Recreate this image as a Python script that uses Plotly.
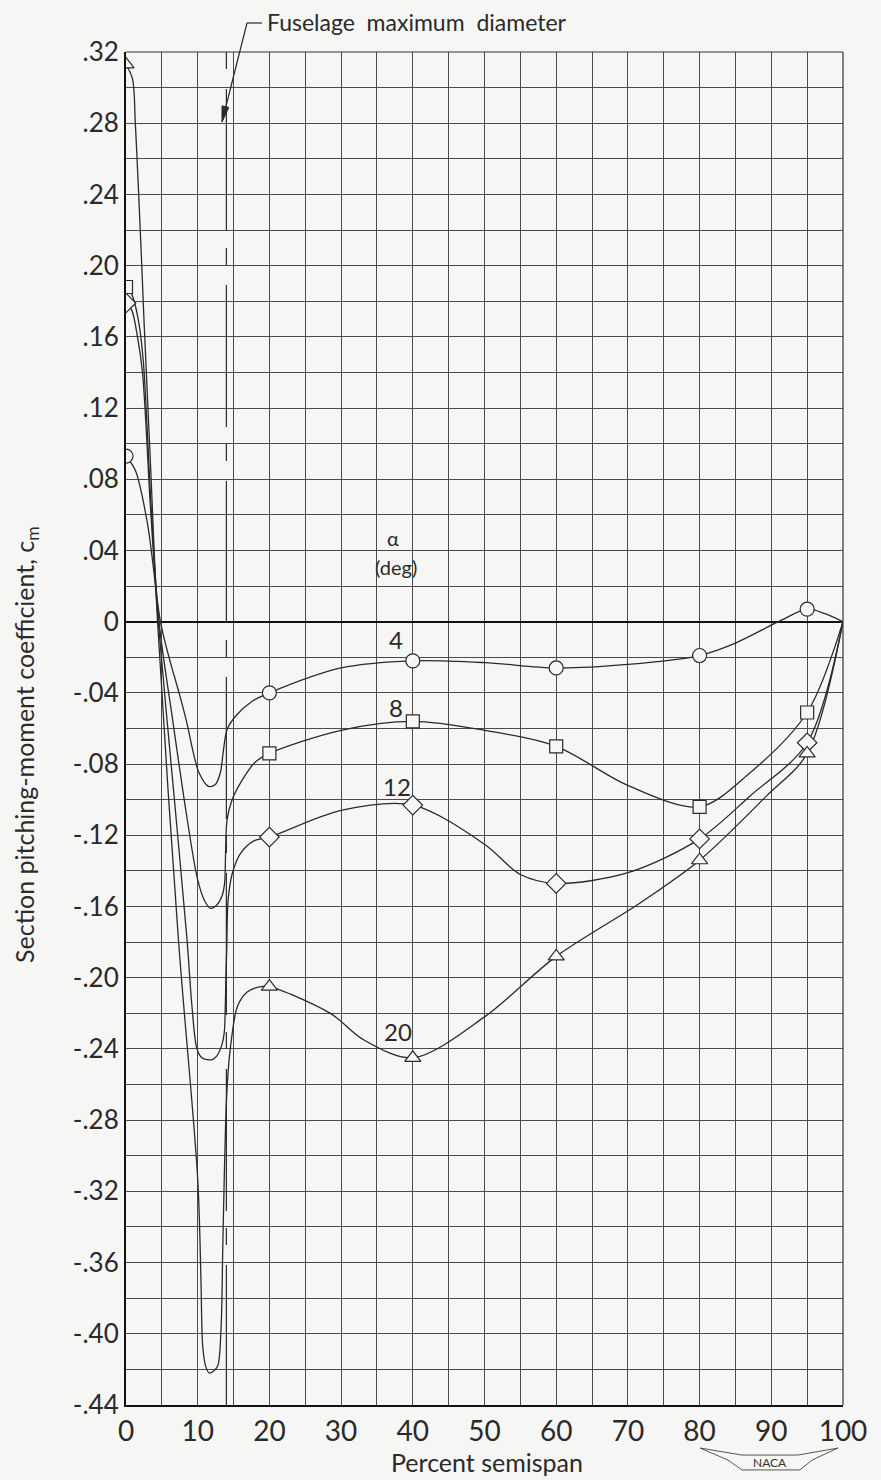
import plotly.graph_objects as go

# ---------------- data ----------------
STATIONS = [0, 20, 40, 60, 80, 95]            # percent semispan of measured points
CM_A4 = [0.093, -0.040, -0.022, -0.026, -0.019, 0.007]
CM_A8 = [0.188, -0.074, -0.056, -0.070, -0.104, -0.051]
CM_A12 = [0.179, -0.121, -0.103, -0.147, -0.122, -0.068]
CM_A20 = [0.313, -0.205, -0.245, -0.188, -0.134, -0.074]

# faired curves as drawn on the reference (read points along each curve)
FAIR_A4_X = [0, 1.3, 3.0, 4.8, 6.0, 7.4, 8.5, 9.3, 10.2, 11.5, 12.45, 13.15, 13.6, 14.1, 15.3, 17.6, 20,
             30, 40, 50, 60, 70, 80, 85, 91, 95, 97.5, 100]
FAIR_A4_Y = [0.093, 0.085, 0.055, 0.0, -0.020, -0.040, -0.057, -0.072, -0.085, -0.0925, -0.0915, -0.085,
             -0.072, -0.0606, -0.053, -0.0447, -0.040,
             -0.026, -0.022, -0.023, -0.026, -0.024, -0.019, -0.012, 0.0, 0.007, 0.0045, 0.0]

FAIR_A8_X = [0, 0.8, 1.7, 2.4, 3.5, 4.6, 6.5, 8.5, 10.0, 11.0, 11.8, 12.7, 13.4, 13.75, 13.9, 14.1, 14.8,
             16.2, 18.0, 20, 30, 40, 50, 60, 70, 80, 87, 95, 100]
FAIR_A8_Y = [0.188, 0.184, 0.170, 0.147, 0.065, 0.0, -0.055, -0.110, -0.145, -0.157, -0.161, -0.159,
             -0.154, -0.147, -0.128, -0.111, -0.100, -0.089, -0.079, -0.074, -0.061, -0.056, -0.061,
             -0.070, -0.092, -0.104, -0.085, -0.051, 0.0]

FAIR_A12_X = [0, 0.8, 1.6, 2.3, 3.4, 4.5, 6.5, 8.5, 9.2, 9.9, 10.6, 11.25, 12.0, 12.65, 13.35, 13.7,
              13.85, 13.95, 14.05, 14.25, 14.85, 16.0, 17.9, 20, 30, 40, 50, 55, 60, 70, 80, 87, 95, 100]
FAIR_A12_Y = [0.179, 0.175, 0.160, 0.140, 0.065, 0.0, -0.089, -0.178, -0.216, -0.240, -0.245, -0.246,
              -0.246, -0.244, -0.238, -0.231, -0.216, -0.197, -0.184, -0.156, -0.141, -0.130, -0.123,
              -0.121, -0.106, -0.103, -0.125, -0.142, -0.147, -0.141, -0.122, -0.098, -0.068, 0.0]

FAIR_A20_X = [0, 0.9, 1.3, 1.6, 1.9, 2.2, 2.5, 3.4, 4.4, 7.3, 10.0, 10.45, 10.7, 11.1, 11.6, 12.2, 12.8,
              13.25, 13.5, 13.7, 14.0, 14.3, 14.6, 15.55, 16.9, 18.8, 20, 28.5, 33.2, 40, 50, 60, 71.7,
              80, 89.3, 95, 100]
FAIR_A20_Y = [0.313, 0.305, 0.280, 0.255, 0.228, 0.200, 0.170, 0.090, 0.0, -0.178, -0.313, -0.369,
              -0.407, -0.418, -0.422, -0.421, -0.418, -0.3975, -0.351, -0.313, -0.270, -0.250, -0.238,
              -0.216, -0.208, -0.205, -0.205, -0.220, -0.235, -0.245, -0.222, -0.188, -0.158, -0.134,
              -0.098, -0.074, 0.0]

FUSELAGE_X = 14.0
Y_TICKS = [0.32, 0.28, 0.24, 0.20, 0.16, 0.12, 0.08, 0.04, 0.0, -0.04, -0.08, -0.12, -0.16, -0.20,
           -0.24, -0.28, -0.32, -0.36, -0.40, -0.44]
Y_TICK_TEXT = [".32", ".28", ".24", ".20", ".16", ".12", ".08", ".04", "0", "-.04", "-.08", "-.12",
               "-.16", "-.20", "-.24", "-.28", "-.32", "-.36", "-.40", "-.44"]
X_TICKS = [0, 10, 20, 30, 40, 50, 60, 70, 80, 90, 100]
X_TICK_TEXT = ["0", "10", "20", "30", "40", "50", "60", "70", "80", "90", "100"]

# ---------------- layout geometry ----------------
W, H = 881, 1480
L, R, T, B = 126, 38, 52, 75
PW, PH = W - L - R, H - T - B


def pp(px, py):
    """pixel -> paper coordinates"""
    return (px - L) / PW, (H - B - py) / PH


FONT = "Lato, 'Open Sans', sans-serif"
INK = "#2a2a2a"
BG = "#f6f6f4"

fig = go.Figure()

series = [
    (FAIR_A4_X, FAIR_A4_Y, CM_A4, "circle", 14),
    (FAIR_A8_X, FAIR_A8_Y, CM_A8, "square", 13),
    (FAIR_A12_X, FAIR_A12_Y, CM_A12, "diamond", 15),
    (FAIR_A20_X, FAIR_A20_Y, CM_A20, "triangle-up", 14),
]

# fuselage max diameter line
fig.add_trace(go.Scatter(x=[FUSELAGE_X, FUSELAGE_X], y=[0.32, -0.44], mode="lines",
                         line=dict(color=INK, width=1.2, dash="17px,20px,142px,17px"),
                         hoverinfo="skip", showlegend=False))

for fx, fy, cm, sym, sz in series:
    fig.add_trace(go.Scatter(x=fx, y=fy, mode="lines",
                             line=dict(color=INK, width=1.3, shape="spline", smoothing=0.9),
                             hoverinfo="skip", showlegend=False))
for fx, fy, cm, sym, sz in series:
    fig.add_trace(go.Scatter(x=STATIONS, y=cm, mode="markers",
                             marker=dict(symbol=sym, size=sz, color=BG,
                                         line=dict(color=INK, width=1.2)),
                             showlegend=False))

fig.update_xaxes(range=[0, 100], tickvals=X_TICKS, ticktext=X_TICK_TEXT,
                 showgrid=True, gridcolor="#4a4a4a", gridwidth=1,
                 minor=dict(dtick=5, tick0=0, showgrid=True, gridcolor="#4a4a4a", gridwidth=1),
                 showline=True, linecolor="#111", linewidth=2, mirror=False,
                 zeroline=False, ticks="", tickfont=dict(family=FONT, size=28, color=INK))
fig.update_yaxes(range=[-0.44, 0.32], tickvals=Y_TICKS, ticktext=Y_TICK_TEXT,
                 showgrid=True, gridcolor="#4a4a4a", gridwidth=1,
                 minor=dict(dtick=0.02, tick0=0, showgrid=True, gridcolor="#4a4a4a", gridwidth=1),
                 showline=True, linecolor="#111", linewidth=2, mirror=False,
                 zeroline=True, zerolinecolor="#111", zerolinewidth=2.2,
                 ticks="", tickfont=dict(family=FONT, size=26, color=INK))

shapes = []
# top and right borders
shapes.append(dict(type="line", xref="paper", yref="paper", x0=0, x1=1, y0=1, y1=1,
                   line=dict(color="#333", width=1.2)))
shapes.append(dict(type="line", xref="paper", yref="paper", x0=1, x1=1, y0=0, y1=1,
                   line=dict(color="#333", width=1.2)))
# leader of the fuselage note: short horizontal, then slanted arrow to the dashed line
a = pp(247, 23)
b = pp(262, 23)
shapes.append(dict(type="line", xref="paper", yref="paper", x0=a[0], y0=a[1], x1=b[0], y1=b[1],
                   line=dict(color=INK, width=1.2)))
tip = pp(222, 122)
shapes.append(dict(type="line", xref="paper", yref="paper", x0=a[0], y0=a[1], x1=tip[0], y1=tip[1],
                   line=dict(color=INK, width=1.2)))
head = [(222, 122), (228.8, 107.5), (222.0, 105.8)]
hpath = "M " + " L ".join("{:.4f},{:.4f}".format(*pp(x, y)) for x, y in head) + " Z"
shapes.append(dict(type="path", xref="paper", yref="paper", path=hpath,
                   line=dict(color=INK, width=1), fillcolor=INK))
# NACA wings emblem
pts = [(700, 1448), (742, 1455), (798, 1455), (838, 1448), (812, 1460), (800, 1470), (742, 1470),
       (728, 1460)]
path = "M " + " L ".join("{:.4f},{:.4f}".format(*pp(x, y)) for x, y in pts) + " Z"
shapes.append(dict(type="path", xref="paper", yref="paper", path=path,
                   line=dict(color="#555", width=1), fillcolor="rgba(0,0,0,0)"))


def ptext(px, py, text, size, **kw):
    x, y = pp(px, py)
    d = dict(x=x, y=y, xref="paper", yref="paper", xanchor="center", yanchor="middle",
             showarrow=False, text=text, font=dict(family=FONT, size=size, color=INK))
    d.update(kw)
    return d


annotations = [
    ptext(265, 22, "Fuselage\u00a0\u00a0maximum\u00a0\u00a0diameter", 23, xanchor="left"),
    dict(x=37.3, y=0.047, text="\u03b1", showarrow=False, font=dict(family=FONT, size=20, color=INK)),
    dict(x=37.6, y=0.031, text="(deg)", showarrow=False, font=dict(family=FONT, size=20, color=INK)),
    dict(x=37.6, y=-0.010, text="4", showarrow=False, font=dict(family=FONT, size=24, color=INK)),
    dict(x=37.6, y=-0.048, text="8", showarrow=False, font=dict(family=FONT, size=24, color=INK)),
    dict(x=37.8, y=-0.0925, text="12", showarrow=False, font=dict(family=FONT, size=24, color=INK)),
    dict(x=38.0, y=-0.230, text="20", showarrow=False, font=dict(family=FONT, size=24, color=INK)),
    ptext(487, 1462, "Percent semispan", 25),
    ptext(26, 745, "Section pitching-moment coefficient, c<sub>m</sub>", 25, textangle=-90),
    ptext(770, 1462, "NACA", 12, font=dict(family=FONT, size=12, color="#333")),
]

fig.update_layout(width=W, height=H, margin=dict(l=L, r=R, t=T, b=B, pad=0),
                  paper_bgcolor=BG, plot_bgcolor=BG, showlegend=False,
                  shapes=shapes, annotations=annotations,
                  font=dict(family=FONT, color=INK))

fig.write_html("out.html")
